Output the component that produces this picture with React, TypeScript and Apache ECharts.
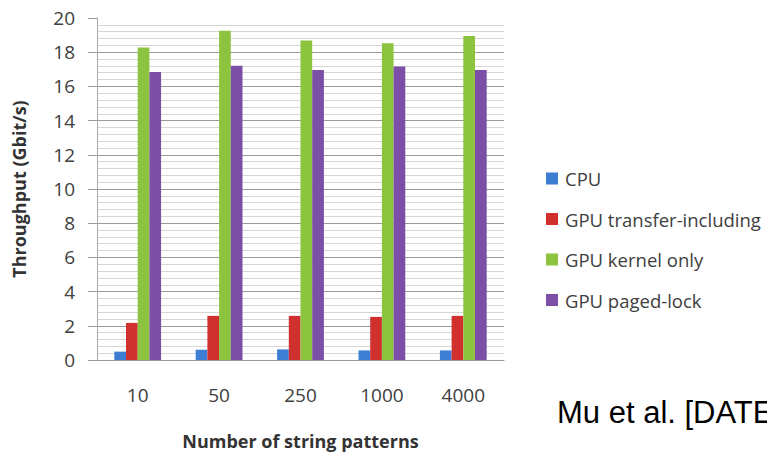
import React, { useEffect, useRef } from "react";
import * as echarts from "echarts";

const categories = ["10", "50", "250", "1000", "4000"];
const seriesNames = ["CPU", "GPU transfer-including", "GPU kernel only", "GPU paged-lock"];
const cpu = [0.49, 0.6, 0.62, 0.56, 0.56];
const gpuTransfer = [2.17, 2.58, 2.58, 2.52, 2.58];
const gpuKernel = [18.28, 19.25, 18.69, 18.53, 18.95];
const gpuPaged = [16.84, 17.21, 16.96, 17.17, 16.96];
const colors = ["#3d7ed4", "#d0302e", "#8cc43f", "#7b4fa5"];
const yAxisName = "Throughput (Gbit/s)";
const xAxisName = "Number of string patterns";
const citation = "Mu et al. [DATE]";

const FONT = "'Open Sans', sans-serif";

export default function App() {
  const ref = useRef<HTMLDivElement>(null);
  useEffect(() => {
    if (!ref.current) return;
    const chart = echarts.init(ref.current, null, { renderer: "svg" });
    const data = [cpu, gpuTransfer, gpuKernel, gpuPaged];
    chart.setOption({
      animation: false,
      backgroundColor: "#ffffff",
      textStyle: { fontFamily: FONT },
      grid: { left: 97, right: 263, top: 18, bottom: 93.3, containLabel: false },
      legend: {
        orient: "vertical",
        left: 541,
        top: 164,
        itemWidth: 12,
        itemHeight: 12,
        itemGap: 21.5,
        icon: "rect",
        textStyle: { fontFamily: FONT, fontSize: 18.5, color: "#404040", padding: [0, 0, 0, 2] },
        data: seriesNames,
      },
      xAxis: {
        type: "category",
        data: categories,
        name: xAxisName,
        nameLocation: "middle",
        nameGap: 72,
        nameTextStyle: { fontFamily: FONT, fontSize: 18, fontWeight: "bold", color: "#333333" },
        axisLine: { show: true, lineStyle: { color: "#999999", width: 1 } },
        axisTick: { show: false },
        axisLabel: { fontFamily: FONT, fontSize: 19, color: "#404040", margin: 25 },
        splitLine: { show: false },
      },
      yAxis: {
        type: "value",
        min: 0,
        max: 20,
        interval: 2,
        name: yAxisName,
        nameLocation: "middle",
        nameGap: 69,
        nameRotate: 90,
        nameTextStyle: { fontFamily: FONT, fontSize: 18, fontWeight: "bold", color: "#333333" },
        axisLine: { show: true, lineStyle: { color: "#aaaaaa", width: 1 } },
        axisTick: { show: true, length: 9, lineStyle: { color: "#999999" } },
        axisLabel: { fontFamily: FONT, fontSize: 19, color: "#404040", margin: 22 },
        splitLine: { show: true, showMaxLine: false, lineStyle: { color: "#9a9a9a", width: 1 } },
        minorTick: { show: false, splitNumber: 5 },
        minorSplitLine: { show: true, lineStyle: { color: "#d6d6d6", width: 1 } },
      },
      series: seriesNames.map((n, i) => ({
        name: n,
        type: "bar",
        data: data[i],
        barWidth: 11.7,
        barGap: "0%",
        itemStyle: { color: colors[i] },
      })),
      graphic: [
        {
          type: "text",
          left: 557,
          top: 397,
          style: {
            text: citation,
            font: "31px 'Liberation Sans', Arial, sans-serif",
            fill: "#000000",
          },
        },
      ],
    });
    return () => chart.dispose();
  }, []);
  return (
    <div
      ref={ref}
      style={{ position: "absolute", left: 0, top: 0, width: 767, height: 455 }}
    />
  );
}
